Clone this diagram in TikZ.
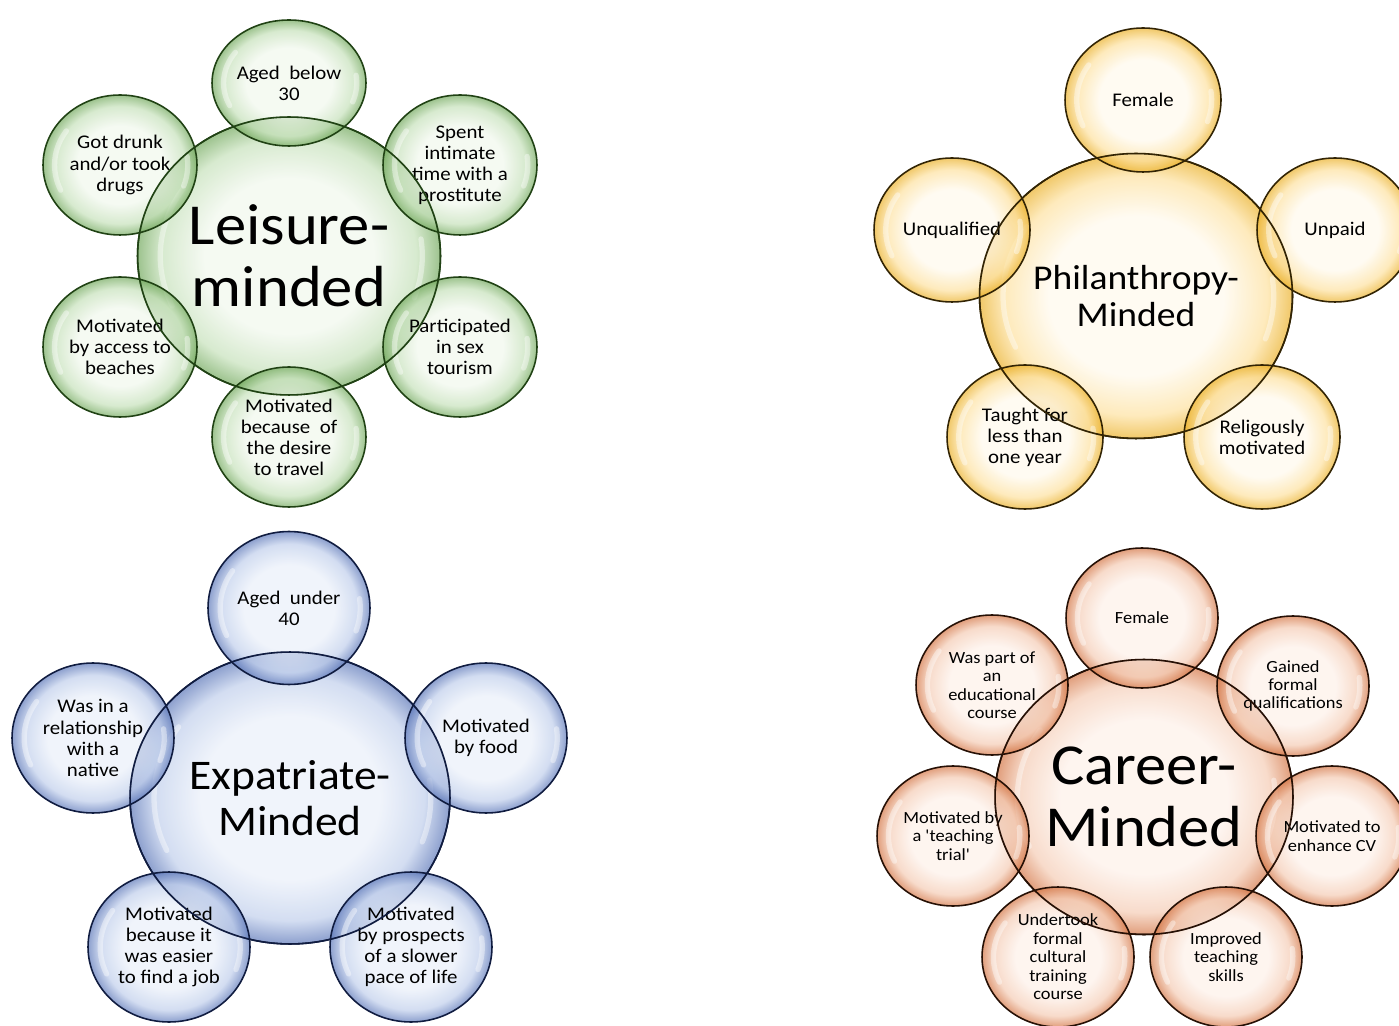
\documentclass[tikz,border=0pt]{standalone}
\usepackage{fontspec}
\usepackage{tikz}
\usetikzlibrary{shapes.geometric, calc}
\usepackage{xcolor}
\newfontfamily\bubblefont[FakeStretch=1.08]{Carlito}
\definecolor{inG}{RGB}{240,247,236}
\definecolor{midG}{RGB}{196,224,184}
\definecolor{outG}{RGB}{110,166,88}
\definecolor{lineG}{RGB}{32,66,20}
\definecolor{inY}{RGB}{255,249,236}
\definecolor{midY}{RGB}{253,224,156}
\definecolor{outY}{RGB}{234,174,34}
\definecolor{lineY}{RGB}{50,36,4}
\definecolor{inB}{RGB}{233,239,249}
\definecolor{midB}{RGB}{190,205,235}
\definecolor{outB}{RGB}{86,114,182}
\definecolor{lineB}{RGB}{16,28,64}
\definecolor{inO}{RGB}{253,240,232}
\definecolor{midO}{RGB}{244,202,178}
\definecolor{outO}{RGB}{210,112,62}
\definecolor{lineO}{RGB}{38,16,5}
\pgfdeclareradialshading{shadeG}{\pgfpoint{0bp}{0bp}}{color(0bp)=(inG); color(14bp)=(inG); color(21bp)=(midG); color(25bp)=(outG); color(50bp)=(outG)}
\pgfdeclareradialshading{shadeY}{\pgfpoint{0bp}{0bp}}{color(0bp)=(inY); color(14bp)=(inY); color(21bp)=(midY); color(25bp)=(outY); color(50bp)=(outY)}
\pgfdeclareradialshading{shadeB}{\pgfpoint{0bp}{0bp}}{color(0bp)=(inB); color(14bp)=(inB); color(21bp)=(midB); color(25bp)=(outB); color(50bp)=(outB)}
\pgfdeclareradialshading{shadeO}{\pgfpoint{0bp}{0bp}}{color(0bp)=(inO); color(14bp)=(inO); color(21bp)=(midO); color(25bp)=(outO); color(50bp)=(outO)}
\newcommand{\satfont}{\fontsize{11}{12}\selectfont\bubblefont}

\begin{document}
\begin{tikzpicture}[
  x=0.02cm, y=-0.02cm,
  glint/.style={path picture={
    \path let \p1=(path picture bounding box.north east),
              \p2=(path picture bounding box.center),
              \n1={abs(\x1-\x2)}, \n2={abs(\y1-\y2)} in
      [white, line cap=round]
      ($(\p2)+(145:{0.85*\n1} and {0.85*\n2})$)
        [draw, line width=5pt, draw opacity=0.3]
        arc[start angle=145, end angle=205, x radius={0.85*\n1}, y radius={0.85*\n2}]
      ($(\p2)+(155:{0.85*\n1} and {0.85*\n2})$)
        [draw, line width=1.6pt, draw opacity=0.6]
        arc[start angle=155, end angle=195, x radius={0.85*\n1}, y radius={0.85*\n2}]
      ($(\p2)+(-20:{0.88*\n1} and {0.88*\n2})$)
        [draw, line width=3pt, draw opacity=0.4]
        arc[start angle=-20, end angle=8, x radius={0.88*\n1}, y radius={0.88*\n2}];
  }},
  bubble/.style={
    ellipse, draw, line width=0.9pt, fill opacity=0.68, text opacity=1,
    align=center, inner sep=0pt, glint
  },
  rim/.style={ellipse, draw, line width=0.9pt, inner sep=0pt},
  green/.style={bubble, shading=shadeG, draw=lineG},
  yellow/.style={bubble, shading=shadeY, draw=lineY},
  blue/.style={bubble, shading=shadeB, draw=lineB},
  orange/.style={bubble, shading=shadeO, draw=lineO},
  bigL/.style={minimum width=6.06cm, minimum height=5.56cm},
  bigP/.style={minimum width=6.26cm, minimum height=5.7cm},
  bigE/.style={minimum width=6.4cm, minimum height=5.84cm},
  bigC/.style={minimum width=5.96cm, minimum height=5.5cm},
  satG/.style={green, minimum width=3.08cm, minimum height=2.8cm, font=\satfont},
  satY/.style={yellow, minimum width=3.12cm, minimum height=2.88cm, font=\satfont},
  satB/.style={blue, minimum width=3.24cm, minimum height=3cm, font=\satfont},
  satO/.style={orange, minimum width=3.04cm, minimum height=2.8cm,
    font=\fontsize{9.7}{10.5}\selectfont\bubblefont},
]
\useasboundingbox (0,0) rectangle (1399,1026);

% --- Leisure-minded ---
\node[green, bigL, font=\fontsize{33}{35}\selectfont\bubblefont] (leisure) at (289,256) {Leisure-\\minded};
\node[satG, minimum height=2.52cm] (lAge) at (289,83) {Aged~ below\\30};
\node[satG] (lSex) at (460,165) {Spent\\intimate\\time with a\\prostitute};
\node[satG] (lTour) at (460,347) {Participated\\in sex\\tourism};
\node[satG] (lTravel) at (289,437) {Motivated\\because~ of\\the desire\\to travel};
\node[satG] (lBeach) at (120,347) {Motivated\\by access to\\beaches};
\node[satG] (lDrunk) at (120,165) {Got drunk\\and/or took\\drugs};
\node[rim, bigL, draw=lineG] (leisureRim) at (leisure) {};

% --- Philanthropy-minded ---
\node[yellow, bigP, font=\fontsize{19.8}{21}\selectfont\bubblefont] (philan) at (1136,296) {Philanthropy-\\Minded};
\node[satY] (pFemale) at (1143,100) {Female};
\node[satY] (pUnpaid) at (1335,230) {Unpaid};
\node[satY] (pFaith) at (1262,437) {Religously\\motivated};
\node[satY] (pShort) at (1025,437) {Taught for\\less than\\one year};
\node[satY] (pUnqual) at (952,230) {Unqualified};
\node[rim, bigP, draw=lineY] (philanRim) at (philan) {};

% --- Expatriate-minded ---
\node[blue, bigE, font=\fontsize{24}{26}\selectfont\bubblefont] (expat) at (290,798) {Expatriate-\\Minded};
\node[satB, minimum height=3.06cm] (eAge) at (289,608) {Aged~ under\\40};
\node[satB] (eFood) at (486,738) {Motivated\\by food};
\node[satB] (ePace) at (411,947) {Motivated\\by prospects\\of a slower\\pace of life};
\node[satB] (eJob) at (169,947) {Motivated\\because it\\was easier\\to find a job};
\node[satB] (eNative) at (93,738) {Was in a\\relationship\\with a\\native};
\node[rim, bigE, draw=lineB] (expatRim) at (expat) {};

% --- Career-minded ---
\node[orange, bigC, font=\fontsize{33}{35}\selectfont\bubblefont] (career) at (1144,797) {Career-\\Minded};
\node[satO] (cFemale) at (1142,618) {Female};
\node[satO] (cQual) at (1293,686) {Gained\\formal\\qualifications};
\node[satO] (cCV) at (1332,836) {Motivated to\\enhance CV};
\node[satO] (cSkills) at (1226,957) {Improved\\teaching\\skills};
\node[satO] (cCulture) at (1058,957) {Undertook\\formal\\cultural\\training\\course};
\node[satO] (cTrial) at (953,836) {Motivated by\\a 'teaching\\trial'};
\node[satO] (cCourse) at (992,685) {Was part of\\an\\educational\\course};
\node[rim, bigC, draw=lineO] (careerRim) at (career) {};

\end{tikzpicture}
\end{document}
